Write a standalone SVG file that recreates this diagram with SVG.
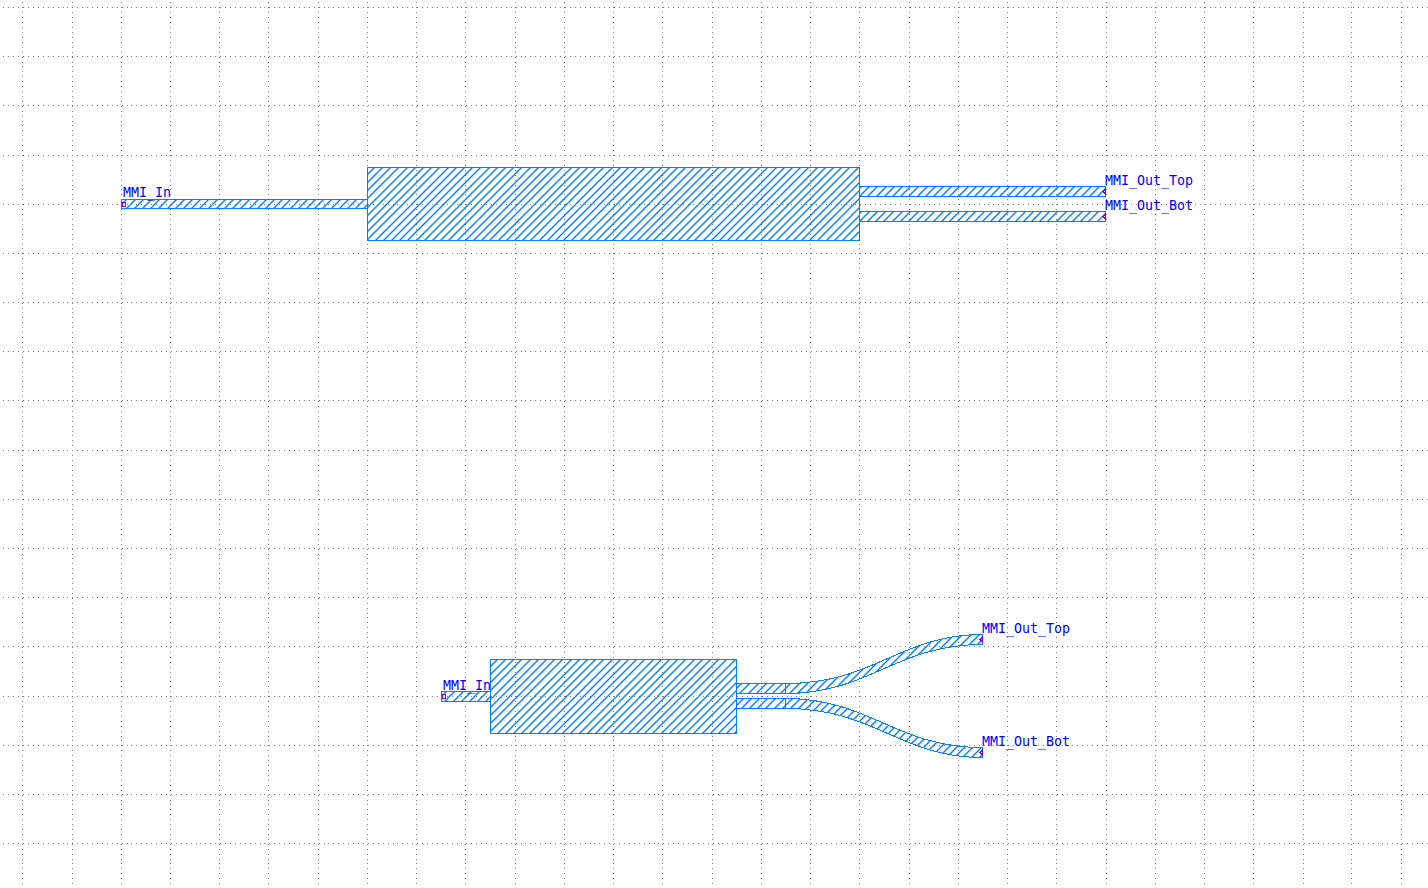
<svg xmlns="http://www.w3.org/2000/svg" xmlns:xlink="http://www.w3.org/1999/xlink" width="1428" height="888" viewBox="0 0 1428 888">
<style>
.grid{fill:none;stroke:#808080;stroke-width:1;shape-rendering:crispEdges}
.hl{stroke-dasharray:1 4 1 4 1 4 1 4 1 4 1 4 1 4 1 4 1 4 1 4 1 4 1 4 1 3 1 4 1 4 1 4 1 4 1 4 1 4 1 4 1 4 1 4 1 4 1 4 1 4 1 3 1 4 1 4 1 4 1 4 1 4 1 4 1 4 1 4 1 4 1 4 1 4 1 4 1 4 1 3;stroke-dashoffset:-3}
.vl{stroke-dasharray:1 4 1 4 1 4 1 4 1 4 1 4 1 4 1 4 1 4 1 4 1 4 1 4 1 3 1 4 1 4 1 4 1 4 1 4 1 4 1 4 1 4 1 4 1 4 1 4 1 3;stroke-dashoffset:-2}
.shape{stroke:#0080ff;stroke-width:1;shape-rendering:crispEdges}
.a{fill:url(#hatch-a)}
.b{fill:url(#hatch-b)}
.port{fill:none;stroke:#8000ff;stroke-width:1;shape-rendering:crispEdges}
text{font-family:"DejaVu Sans Mono","Liberation Mono",monospace;font-size:13.3px;fill:#0000ff}
</style>
<defs>
<pattern id="hatch-a" patternUnits="userSpaceOnUse" width="41" height="41" patternTransform="translate(7 0)">
<path d="M-1,1L1,-1M-1,42L42,-1M-1,9L9,-1M7,42L42,7M-1,17L17,-1M15,42L42,15M-1,25L25,-1M23,42L42,23M-1,33L33,-1M31,42L42,31" stroke="#0080ff" stroke-width="1.4" fill="none"/>
</pattern>
<pattern id="hatch-b" xlink:href="#hatch-a" patternTransform="translate(1 0)"/>
</defs>
<rect width="1428" height="888" fill="#ffffff"/>
<g id="grid">
<path class="grid hl" d="M0,7.5H1428M0,56.5H1428M0,105.5H1428M0,155.5H1428M0,204.5H1428M0,253.5H1428M0,302.5H1428M0,351.5H1428M0,400.5H1428M0,450.5H1428M0,499.5H1428M0,548.5H1428M0,597.5H1428M0,646.5H1428M0,696.5H1428M0,745.5H1428M0,794.5H1428M0,843.5H1428"/>
<path class="grid vl" d="M22.5,0V888M72.5,0V888M121.5,0V888M170.5,0V888M219.5,0V888M268.5,0V888M318.5,0V888M367.5,0V888M416.5,0V888M465.5,0V888M515.5,0V888M564.5,0V888M613.5,0V888M662.5,0V888M712.5,0V888M761.5,0V888M810.5,0V888M859.5,0V888M909.5,0V888M958.5,0V888M1007.5,0V888M1056.5,0V888M1106.5,0V888M1155.5,0V888M1204.5,0V888M1253.5,0V888M1303.5,0V888M1351.5,0V888M1401.5,0V888"/>
</g>
<g id="mmi-long">
<rect class="shape a" x="121.5" y="199.5" width="246" height="9"/>
<rect class="shape b" x="367.5" y="167.5" width="492" height="73"/>
<rect class="shape a" x="859.5" y="186.5" width="246" height="10"/>
<rect class="shape a" x="859.5" y="211.5" width="246" height="10"/>
<path class="port" d="M122.5,202.5h3v4h-3z"/>
<path class="port" d="M1105,189.5l-2,2l2,2zM1105,214.5l-2,2l2,2z"/>
<text x="123" y="197">MMI_In</text>
<text x="1105" y="185">MMI_Out_Top</text>
<text x="1105" y="210">MMI_Out_Bot</text>
</g>
<g id="mmi-short">
<rect class="shape a" x="441.5" y="691.5" width="49" height="10"/>
<rect class="shape b" x="490.5" y="659.5" width="246" height="74"/>
<rect class="shape a" x="736.5" y="683.5" width="49" height="10"/>
<rect class="shape a" x="736.5" y="698.5" width="49" height="10"/>
<path class="shape a" d="M785.5,683.5C875,683.5 900,634.5 982.5,634.5V644.5C896,644.5 870,693.5 785.5,693.5Z"/>
<path class="shape a" d="M785.5,708.5C875,708.5 900,757.5 982.5,757.5V747.5C896,747.5 870,698.5 785.5,698.5Z"/>
<path class="port" d="M442.5,694.5h3v4h-3z"/>
<path class="port" d="M982,637.5l-2,2l2,2zM982,750.5l-2,2l2,2z"/>
<text x="443" y="690">MMI_In</text>
<text x="982" y="633">MMI_Out_Top</text>
<text x="982" y="746">MMI_Out_Bot</text>
</g>
</svg>
